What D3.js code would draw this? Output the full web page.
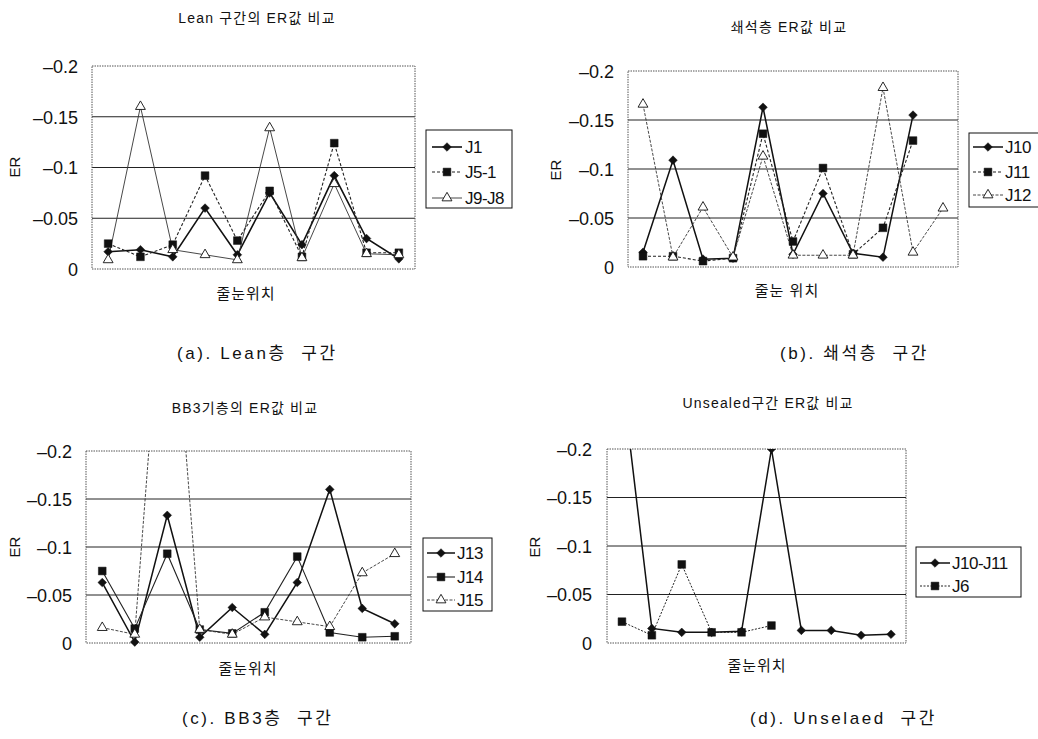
<!DOCTYPE html>
<html><head><meta charset="utf-8">
<script src="https://cdn.jsdelivr.net/npm/d3@7/dist/d3.min.js"></script>
<style>
body{margin:0;background:#fff;}
text{fill:#111;}
</style></head>
<body>
<svg id="chart" width="1038" height="739"></svg>
<script>
// ---------- DATA ----------
const yTicks = [0, -0.05, -0.1, -0.15, -0.2];
const yTickLabels = ["0", "\u20130.05", "\u20130.1", "\u20130.15", "\u20130.2"];

const catsA = ["1","2","3","4","5","6","7","8","9","10"];
const namesA = ["J1", "J5-1", "J9-J8"];
const J1   = [-0.017,-0.019,-0.012,-0.060,-0.014,-0.075,-0.024,-0.092,-0.030,-0.010];
const J5_1 = [-0.025,-0.012,-0.024,-0.092,-0.028,-0.077,-0.012,-0.124,-0.016,-0.016];
const J9_J8= [-0.009,-0.160,-0.019,-0.014,-0.009,-0.139,-0.011,-0.084,-0.015,-0.014];

const catsB = ["1","2","3","4","5","6","7","8","9","10","11"];
const namesB = ["J10", "J11", "J12"];
const J10 = [-0.015,-0.109,-0.008,-0.009,-0.163,-0.013,-0.075,-0.014,-0.010,-0.155, null];
const J11 = [-0.011,-0.011,-0.006,-0.009,-0.136,-0.026,-0.101,-0.013,-0.040,-0.129, null];
const J12 = [-0.166,-0.010,-0.061,-0.010,-0.113,-0.012,-0.012,-0.012,-0.183,-0.015,-0.060];

const catsC = ["1","2","3","4","5","6","7","8","9","10"];
const namesC = ["J13", "J14", "J15"];
const J13 = [-0.063,-0.001,-0.133,-0.006,-0.037,-0.009,-0.063,-0.160,-0.036,-0.020];
const J14 = [-0.075,-0.015,-0.093,-0.014,-0.010,-0.032,-0.090,-0.011,-0.006,-0.007];
const J15 = [-0.016,-0.009,-0.450,-0.014,-0.009,-0.027,-0.022,-0.017,-0.073,-0.093];

const catsD = ["1","2","3","4","5","6","7","8","9","10"];
const namesD = ["J10-J11", "J6"];
const J10_J11 = [-0.274,-0.015,-0.011,-0.011,-0.012,-0.200,-0.013,-0.013,-0.008,-0.009];
const J6      = [-0.022,-0.008,-0.081,-0.011,-0.011,-0.018, null, null, null, null];

const titles = ["Lean 구간의 ER값 비교", "쇄석층 ER값 비교", "BB3기층의 ER값 비교", "Unsealed구간 ER값 비교"];
const xLabels = ["줄눈위치", "줄눈 위치", "줄눈위치", "줄눈위치"];
const captions = ["(a). Lean층  구간", "(b). 쇄석층  구간", "(c). BB3층  구간", "(d). Unselaed  구간"];

// ---------- STYLE / LAYOUT ----------
const svg = d3.select("#chart");
const numFont = "'Liberation Sans', Arial, sans-serif";
const mixFont = "'Liberation Sans', 'Noto Sans CJK KR', sans-serif";

const panels = [
  {cats: catsA, names: namesA, data: [J1, J5_1, J9_J8],
   markers: ["diamond","square","triangle"],
   strokes: [{w:1.6,d:null,c:"#111"},{w:1.1,d:"3,2",c:"#222"},{w:0.9,d:null,c:"#333"}],
   plot:{l:92,r:415,t:66,b:269}, tickRight:78,
   legend:{x:426,y:130,w:86,h:78,rows:[147,172,198],lx0:432,lx1:462,tx:465},
   title:{x:257,y:23}, ylab:{x:15,y:167}, xlab:{x:246,y:299},
   cap:{x:177,y:359}},
  {cats: catsB, names: namesB, data: [J10, J11, J12],
   markers: ["diamond","square","triangle"],
   strokes: [{w:1.5,d:null,c:"#111"},{w:1.1,d:"3,2",c:"#222"},{w:0.9,d:"3,1.5",c:"#333"}],
   plot:{l:628,r:958,t:71,b:267}, tickRight:614,
   legend:{x:969,y:133,w:72,h:74,rows:[147,172,195],lx0:973,lx1:1003,tx:1005},
   title:{x:789,y:32}, ylab:{x:556,y:170}, xlab:{x:787,y:296},
   cap:{x:780,y:359}},
  {cats: catsC, names: namesC, data: [J13, J14, J15],
   markers: ["diamond","square","triangle"],
   strokes: [{w:1.5,d:null,c:"#111"},{w:1.1,d:null,c:"#222"},{w:0.9,d:"3,1.5",c:"#333"}],
   plot:{l:86,r:411,t:451,b:643}, tickRight:72,
   legend:{x:423,y:538,w:69,h:73,rows:[553,577,600],lx0:427,lx1:455,tx:457},
   title:{x:245,y:413}, ylab:{x:15,y:547}, xlab:{x:248,y:674},
   cap:{x:182,y:724}},
  {cats: catsD, names: namesD, data: [J10_J11, J6],
   markers: ["diamond","square"],
   strokes: [{w:1.5,d:null,c:"#111"},{w:1,d:"2,1.5",c:"#222"}],
   plot:{l:607,r:906,t:449,b:643}, tickRight:592,
   legend:{x:916,y:547,w:105,h:50,rows:[563,586],lx0:920,lx1:950,tx:952},
   title:{x:768,y:408}, ylab:{x:535,y:547}, xlab:{x:757,y:671},
   cap:{x:750,y:724}}
];

function markerPath(type){
  if(type==="diamond") return d3.symbol().type(d3.symbolDiamond2 || d3.symbolDiamond).size(48)();
  if(type==="square") return d3.symbol().type(d3.symbolSquare).size(60)();
  return d3.symbol().type(d3.symbolTriangle).size(42)();
}
function drawMarker(g, type, x, y){
  g.append("path").attr("d", markerPath(type))
    .attr("transform", `translate(${x},${y})`)
    .attr("fill", type==="triangle" ? "#fff" : "#111")
    .attr("stroke", "#111").attr("stroke-width", type==="triangle" ? 0.9 : 0.5);
}

panels.forEach((p, pi) => {
  const g = svg.append("g");
  const x = d3.scaleBand().domain(p.cats).range([p.plot.l, p.plot.r]);
  const y = d3.scaleLinear().domain([0, -0.2]).range([p.plot.b, p.plot.t]);

  // gridlines
  g.append("g").selectAll("line").data(yTicks.filter(t => t !== 0 && t !== -0.2)).join("line")
    .attr("x1", p.plot.l).attr("x2", p.plot.r)
    .attr("y1", d => y(d)).attr("y2", d => y(d))
    .attr("stroke", "#222").attr("stroke-width", 1);

  // plot border (dotted)
  g.append("rect").attr("x", p.plot.l).attr("y", p.plot.t)
    .attr("width", p.plot.r - p.plot.l).attr("height", p.plot.b - p.plot.t)
    .attr("fill", "none").attr("stroke", "#555").attr("stroke-width", 1)
    .attr("stroke-dasharray", "1.5,1");

  // y axis tick labels via d3 axis
  const yAxis = d3.axisLeft(y).tickValues(yTicks).tickSize(0)
    .tickFormat((d, i) => yTickLabels[i]);
  const ag = g.append("g").attr("transform", `translate(${p.tickRight + 3},0)`).call(yAxis);
  ag.select(".domain").remove();
  ag.selectAll("text").attr("font-family", numFont).attr("font-size", 18).attr("fill", "#111").attr("x", -3).attr("dy", "0.35em");

  // clip
  const cid = "clip" + pi;
  svg.append("clipPath").attr("id", cid).append("rect")
    .attr("x", p.plot.l - 6).attr("y", p.plot.t).attr("width", p.plot.r - p.plot.l + 12).attr("height", p.plot.b - p.plot.t + 8);
  const cg = g.append("g").attr("clip-path", `url(#${cid})`);

  p.data.forEach((vals, si) => {
    const st = p.strokes[si];
    const pts = vals.map((v, i) => ({c: p.cats[i], v}));
    const line = d3.line().defined(d => d.v !== null)
      .x(d => x(d.c) + x.bandwidth()/2).y(d => y(d.v));
    cg.append("path").datum(pts).attr("d", line)
      .attr("fill", "none").attr("stroke", st.c).attr("stroke-width", st.w)
      .attr("stroke-dasharray", st.d);
  });
  p.data.forEach((vals, si) => {
    vals.forEach((v, i) => {
      if (v === null) return;
      drawMarker(cg, p.markers[si], x(p.cats[i]) + x.bandwidth()/2, y(v));
    });
  });

  // legend
  const L = p.legend;
  g.append("rect").attr("x", L.x).attr("y", L.y).attr("width", L.w).attr("height", L.h)
    .attr("fill", "#fff").attr("stroke", "#111").attr("stroke-width", 1);
  p.names.forEach((n, si) => {
    const st = p.strokes[si];
    const ry = L.rows[si];
    g.append("line").attr("x1", L.lx0).attr("x2", L.lx1).attr("y1", ry).attr("y2", ry)
      .attr("stroke", st.c).attr("stroke-width", st.w).attr("stroke-dasharray", st.d);
    drawMarker(g, p.markers[si], (L.lx0 + L.lx1)/2, ry);
    g.append("text").attr("x", L.tx).attr("y", ry).attr("dy", "0.36em")
      .attr("font-family", numFont).attr("font-size", 17).attr("letter-spacing", -0.5).text(n);
  });

  // titles and labels
  g.append("text").attr("x", p.title.x).attr("y", p.title.y).attr("text-anchor", "middle")
    .attr("font-family", mixFont).attr("font-size", 14).attr("letter-spacing", 1.2).text(titles[pi]);
  g.append("text").attr("transform", `translate(${p.ylab.x},${p.ylab.y}) rotate(-90)`)
    .attr("text-anchor", "middle").attr("dy", "0.35em")
    .attr("font-family", numFont).attr("font-size", 15).text("ER");
  g.append("text").attr("x", p.xlab.x).attr("y", p.xlab.y).attr("text-anchor", "middle")
    .attr("font-family", mixFont).attr("font-size", 15).attr("letter-spacing", 1).text(xLabels[pi]);
  g.append("text").attr("x", p.cap.x).attr("y", p.cap.y)
    .attr("font-family", mixFont).attr("font-size", 17).attr("letter-spacing", 2.6)
    .style("white-space", "pre").text(captions[pi]);
});
</script>
</body></html>
